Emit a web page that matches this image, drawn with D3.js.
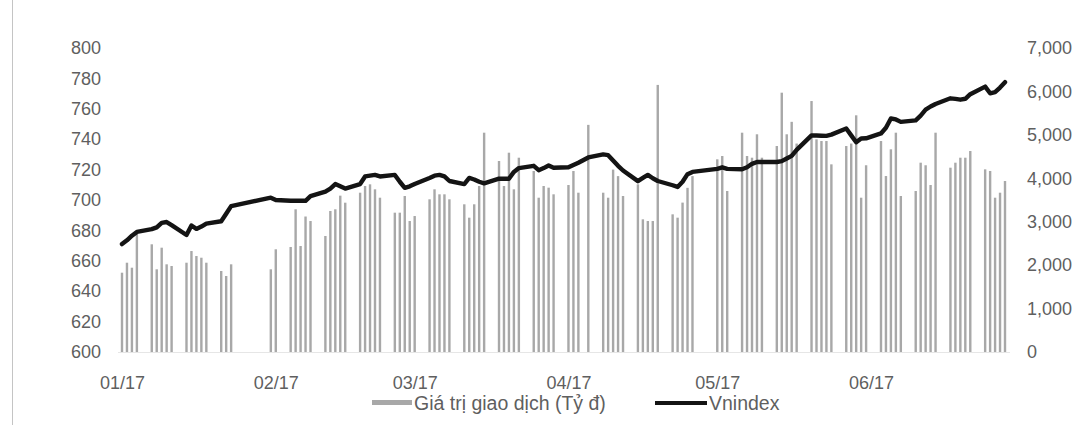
<!DOCTYPE html>
<html>
<head>
<meta charset="utf-8">
<script src="https://cdn.jsdelivr.net/npm/d3@7"></script>
<style>
  html, body { margin: 0; padding: 0; background: #fff; }
  svg { display: block; font-family: "Liberation Sans", Arial, sans-serif; }
</style>
</head>
<body>
<svg id="chart" width="1082" height="425"></svg>
<script>
// Trading sessions, first half of 2017
const tradingDates = [
  "2017-01-03","2017-01-04","2017-01-05","2017-01-06","2017-01-09","2017-01-10","2017-01-11","2017-01-12","2017-01-13",
  "2017-01-16","2017-01-17","2017-01-18","2017-01-19","2017-01-20","2017-01-23","2017-01-24","2017-01-25",
  "2017-02-02","2017-02-03","2017-02-06","2017-02-07","2017-02-08","2017-02-09","2017-02-10","2017-02-13","2017-02-14",
  "2017-02-15","2017-02-16","2017-02-17","2017-02-20","2017-02-21","2017-02-22","2017-02-23","2017-02-24","2017-02-27","2017-02-28",
  "2017-03-01","2017-03-02","2017-03-03","2017-03-06","2017-03-07","2017-03-08","2017-03-09","2017-03-10","2017-03-13",
  "2017-03-14","2017-03-15","2017-03-16","2017-03-17","2017-03-20","2017-03-21","2017-03-22","2017-03-23","2017-03-24",
  "2017-03-27","2017-03-28","2017-03-29","2017-03-30","2017-03-31",
  "2017-04-03","2017-04-04","2017-04-05","2017-04-07","2017-04-10","2017-04-11","2017-04-12","2017-04-13","2017-04-14",
  "2017-04-17","2017-04-18","2017-04-19","2017-04-20","2017-04-21","2017-04-24","2017-04-25","2017-04-26","2017-04-27","2017-04-28",
  "2017-05-03","2017-05-04","2017-05-05","2017-05-08","2017-05-09","2017-05-10","2017-05-11","2017-05-12","2017-05-15",
  "2017-05-16","2017-05-17","2017-05-18","2017-05-19","2017-05-22","2017-05-23","2017-05-24","2017-05-25","2017-05-26",
  "2017-05-29","2017-05-30","2017-05-31",
  "2017-06-01","2017-06-02","2017-06-05","2017-06-06","2017-06-07","2017-06-08","2017-06-09","2017-06-12","2017-06-13",
  "2017-06-14","2017-06-15","2017-06-16","2017-06-19","2017-06-20","2017-06-21","2017-06-22","2017-06-23","2017-06-26",
  "2017-06-27","2017-06-28","2017-06-29","2017-06-30"
];

// Trading value (billion VND), right axis
const tradingValue = [
  1826, 2056, 1941, 2780, 2480, 1904, 2402, 2019, 1980, 2056, 2325, 2210, 2171, 2056, 1865, 1750, 2019,
  1904, 2365, 2418, 3286, 2441, 3120, 3016, 2671, 3247, 3286, 3600, 3438, 3668, 3822, 3861, 3746, 3553, 3208, 3208,
  3592, 3016, 3131, 3516, 3746, 3631, 3631, 3516, 3401, 3093, 3401, 3822, 5050, 4398, 3822, 4589, 3746, 4474,
  4168, 3553, 3822, 3784, 3631,
  3845, 4168, 3668, 5230, 3668, 3553, 4200, 4050, 3592, 3861, 3055, 3016, 3016, 6150, 3170, 3093, 3440, 3780, 4050,
  4437, 4513, 3707, 5050, 4513, 4474, 5013, 4474, 4743, 5971, 5013, 5300, 4800, 5779, 4897, 4858, 4858, 4321,
  4743, 4800, 5450,
  3553, 4300, 4858, 4052, 4667, 5050, 3592, 3707, 4359, 4300, 3845, 5050, 4244, 4359, 4474, 4474, 4628, 4206,
  4168, 3553, 3668, 3937
];

// VN-Index close, left axis
const vnindex = [
  671, 673.5, 676.5, 679, 680.8, 682, 685, 685.5, 683.5, 677, 683.2, 681, 682.5, 684.5, 686, 691, 696,
  701.5, 700, 699.5, 699.5, 699.5, 699.5, 702.5, 705.5, 707.5, 710.5, 709, 707.5, 710.5, 715.5, 716, 716.5, 715.5, 716.5, 712,
  708, 709, 710.5, 714.5, 716, 716.5, 715.5, 712.5, 710.5, 714.5, 713.5, 712, 711, 714, 714, 714, 718.5, 721,
  722.5, 719.6, 721, 722.7, 721.2,
  721.5, 723, 724.5, 728, 730, 729.5, 726, 722.5, 719.4, 712.4, 714.5, 716.5, 714.3, 712.5, 709.7, 708.6, 712, 717, 718.5,
  720.5, 721.5, 720.5, 720.2, 721.5, 723.8, 725, 725, 725, 725.6, 727.3, 729, 733, 742.5, 742.4, 742.3, 742.2, 743,
  747, 742.5, 738,
  740.5, 740.6, 743.8, 747.5, 753.6, 753, 751.4, 752.4, 755.5, 759.4, 761.5, 763.2, 766.9, 766.5, 766, 766.6, 769.6, 774.6,
  770.2, 771, 774, 777.5
];

const leftTicks = [600, 620, 640, 660, 680, 700, 720, 740, 760, 780, 800];
const rightTicks = [0, 1000, 2000, 3000, 4000, 5000, 6000, 7000];
const monthTicks = ["2017-01-03", "2017-02-03", "2017-03-03", "2017-04-03", "2017-05-03", "2017-06-03"];

const legendLabels = ["Giá trị giao dịch (Tỷ đ)", "Vnindex"];

const parse = d3.timeParse("%Y-%m-%d");
const rows = tradingDates.map((d, i) => ({ date: parse(d), value: tradingValue[i], index: vnindex[i] }));

const svg = d3.select("#chart");
const plotTop = 48, plotBottom = 352;

const x = d3.scaleTime()
  .domain([parse(tradingDates[0]), parse(tradingDates[tradingDates.length - 1])])
  .range([122, 1005]);
const yL = d3.scaleLinear().domain([600, 800]).range([plotBottom, plotTop]);
const yR = d3.scaleLinear().domain([0, 7000]).range([plotBottom, plotTop]);

const textColor = "#5f5f5f";
const fontSize = 18;

// outer frame edge on the left
svg.append("line")
  .attr("x1", 12.5).attr("x2", 12.5).attr("y1", 0).attr("y2", 425)
  .attr("stroke", "#c4c4c4").attr("stroke-width", 1);

// baseline
svg.append("line")
  .attr("x1", 118).attr("x2", 1010).attr("y1", plotBottom + 0.5).attr("y2", plotBottom + 0.5)
  .attr("stroke", "#e6e6e6").attr("stroke-width", 1);

// trading value bars
const barW = 2.4;
svg.append("g").selectAll("rect")
  .data(rows)
  .join("rect")
  .attr("x", d => x(d.date) - barW / 2)
  .attr("width", barW)
  .attr("y", d => yR(d.value))
  .attr("height", d => yR(0) - yR(d.value))
  .attr("fill", "#a8a8a8");

// VN-Index line
const line = d3.line().x(d => x(d.date)).y(d => yL(d.index));
svg.append("path")
  .datum(rows)
  .attr("d", line)
  .attr("fill", "none")
  .attr("stroke", "#141414")
  .attr("stroke-width", 4.4)
  .attr("stroke-linejoin", "round")
  .attr("stroke-linecap", "round");

function styleAxis(g) {
  g.select(".domain").remove();
  g.selectAll("text")
    .attr("fill", textColor)
    .style("font-size", fontSize + "px")
    .style("font-family", "'Liberation Sans', Arial, sans-serif");
}

// left axis
svg.append("g")
  .attr("transform", "translate(101,0)")
  .call(d3.axisLeft(yL).tickValues(leftTicks).tickSize(0).tickPadding(0))
  .call(styleAxis);

// right axis
svg.append("g")
  .attr("transform", "translate(1027,0)")
  .call(d3.axisRight(yR).tickValues(rightTicks).tickFormat(d3.format(",")).tickSize(0).tickPadding(0))
  .call(styleAxis);

// bottom axis
svg.append("g")
  .attr("transform", `translate(0,${plotBottom})`)
  .call(d3.axisBottom(x).tickValues(monthTicks.map(parse)).tickFormat(d3.timeFormat("%m/%y")).tickSize(0).tickPadding(24))
  .call(styleAxis);

// legend
const legendFont = 19.5;
const legend = svg.append("g");
legend.append("rect")
  .attr("x", 372).attr("y", 400).attr("width", 40).attr("height", 5)
  .attr("fill", "#a8a8a8");
legend.append("text")
  .attr("x", 414).attr("y", 410)
  .attr("fill", textColor).style("font-size", legendFont + "px")
  .text(legendLabels[0]);
legend.append("line")
  .attr("x1", 655).attr("x2", 707).attr("y1", 403).attr("y2", 403)
  .attr("stroke", "#141414").attr("stroke-width", 4);
legend.append("text")
  .attr("x", 709).attr("y", 410)
  .attr("fill", textColor).style("font-size", legendFont + "px")
  .text(legendLabels[1]);
</script>
</body>
</html>
